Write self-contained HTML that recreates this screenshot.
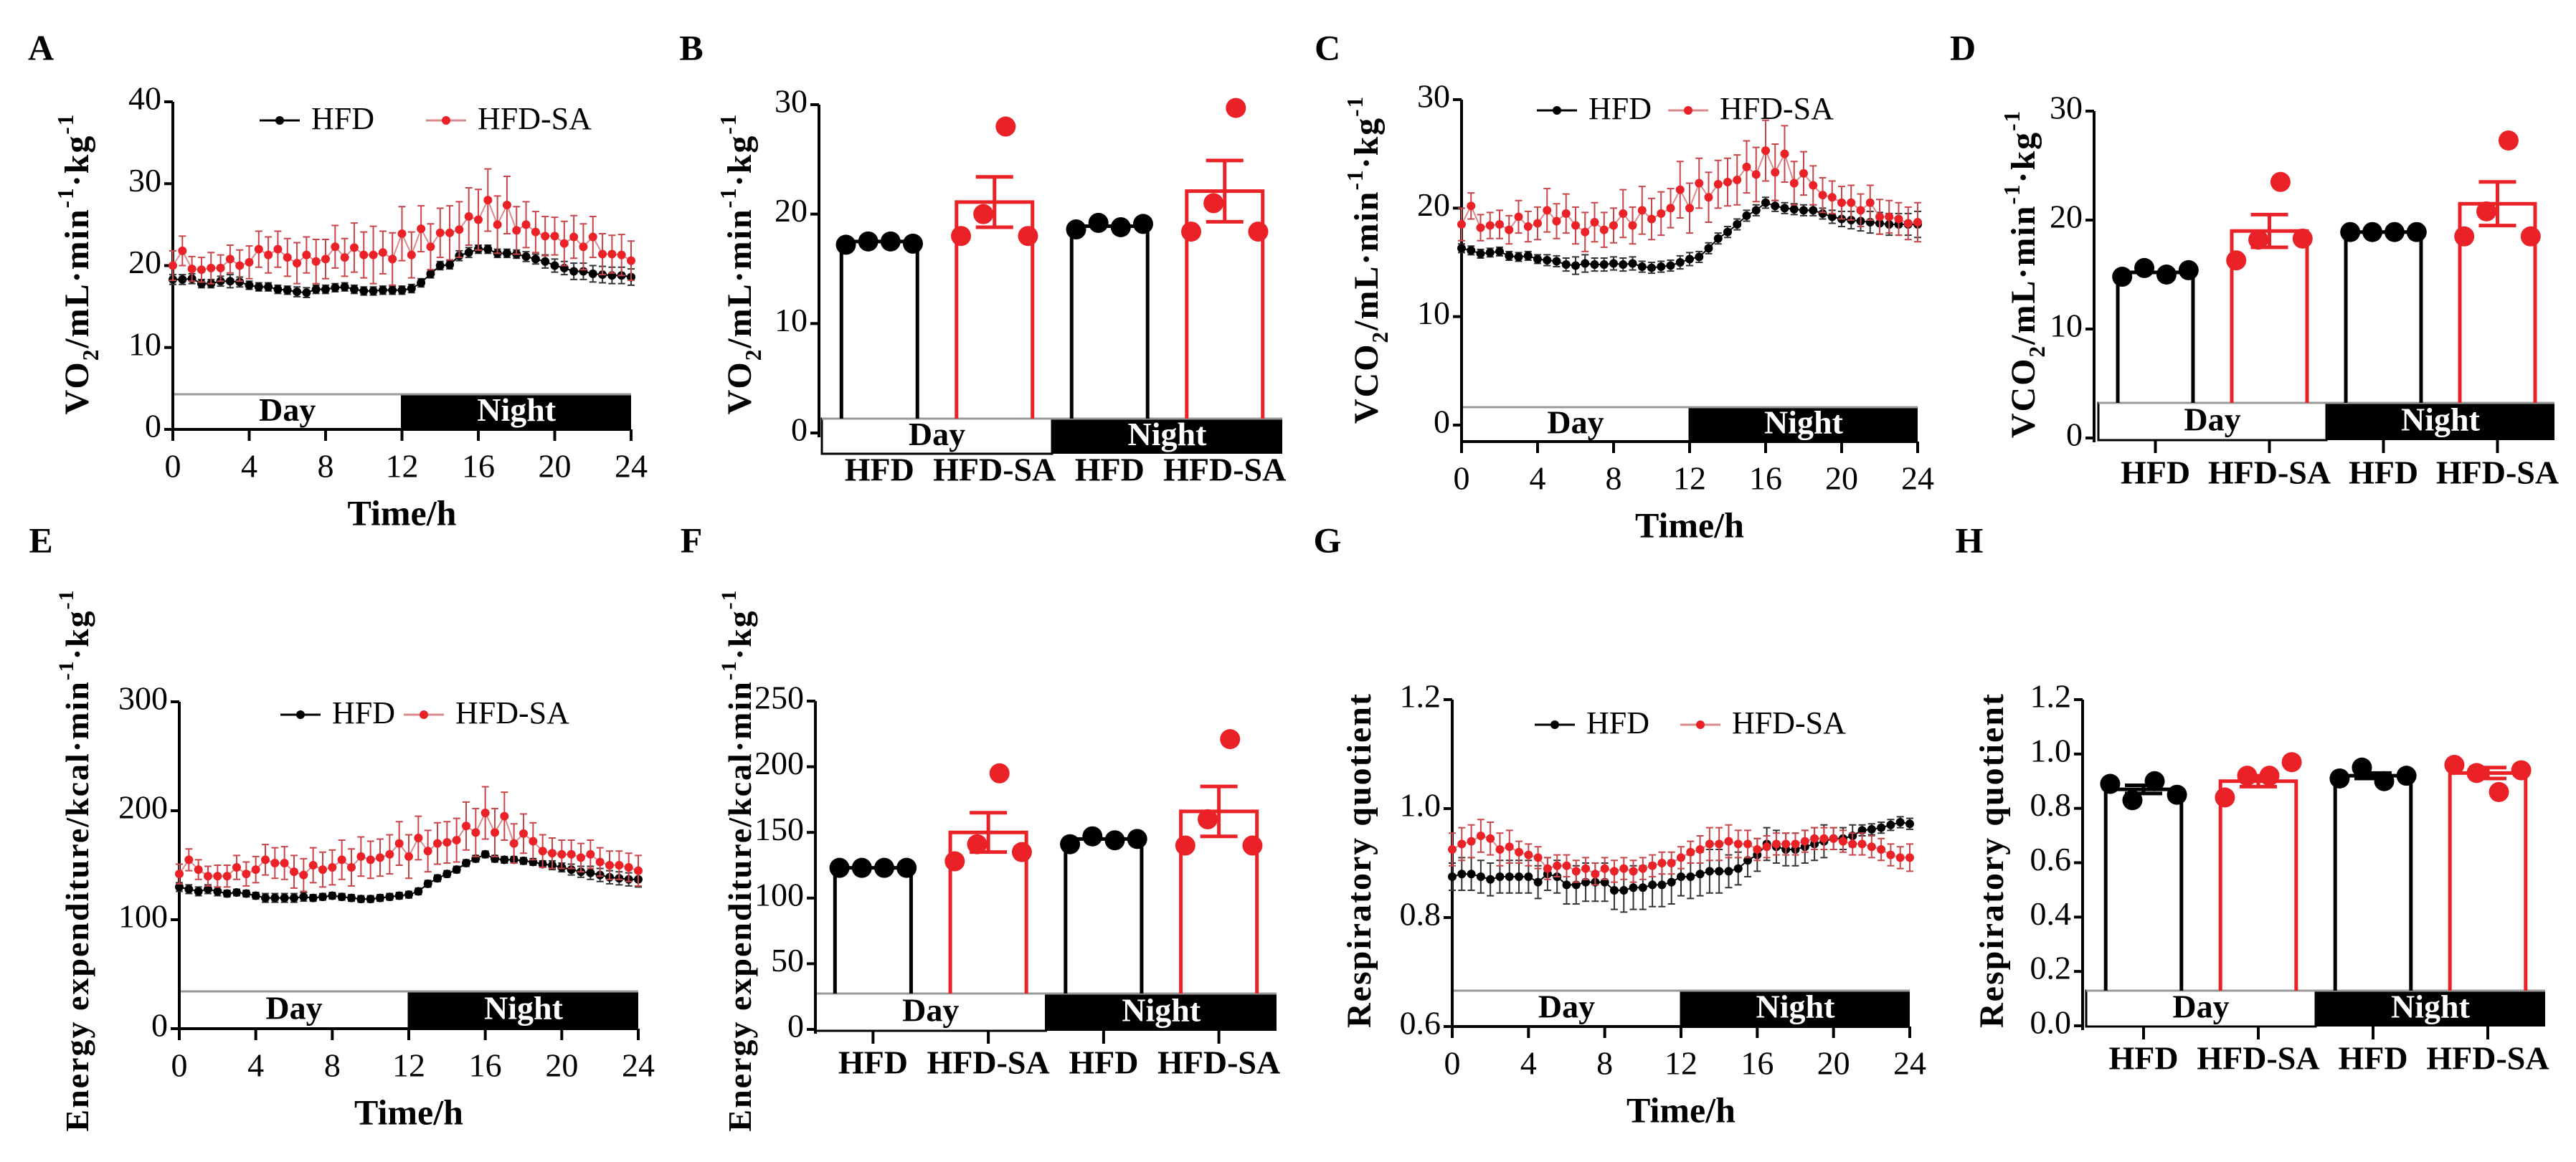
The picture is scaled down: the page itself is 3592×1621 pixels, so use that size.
<!DOCTYPE html>
<html><head><meta charset="utf-8">
<style>
html,body{margin:0;padding:0;background:#fff;}
svg{display:block;font-family:"Liberation Serif",serif;}
</style></head>
<body>
<svg id="fig" width="3592" height="1621" viewBox="0 0 3592 1621" xmlns="http://www.w3.org/2000/svg"></svg>
<script>
// ---------- Panel A: VO2 time course ----------
const vo2Hfd = [18.3,18.3,18.4,17.8,17.8,18.1,18.1,18,17.6,17.4,17.4,17.1,17,16.8,16.7,17.1,17.1,17.3,17.4,17.1,16.9,16.9,17,17,17,17.2,17.9,19,20,20.1,21.2,21.6,22,22,21.5,21.5,21.4,21.1,20.8,20.5,20,19.7,19.3,19.3,19,18.9,18.8,18.8,18.6];
const vo2HfdErr = [0.6,0.6,0.6,0.5,0.5,0.6,0.8,0.6,0.5,0.5,0.5,0.5,0.5,0.6,0.6,0.5,0.5,0.5,0.5,0.5,0.5,0.5,0.5,0.5,0.5,0.5,0.5,0.5,0.5,0.5,0.6,0.6,0.5,0.5,0.5,0.5,0.5,0.6,0.6,0.8,0.8,0.8,1,1,1,1,1,1,1];
const vo2Sa = [20,21.8,19.6,19.5,19.7,19.7,20.8,20,20.4,22,21.3,22,21,20.3,21.3,20.5,20.8,22.3,21,22.2,21.3,21.3,21.6,20.8,23.9,21.3,24.5,22.3,24,24,24.4,26,25.6,28,25,27.4,24.3,25,24.1,23.6,23.6,22.7,23.5,22.3,23.5,21.4,21.4,21.3,20.6];
const vo2SaErr = [1.8,1.8,1.5,1.5,1.9,1.6,1.7,1.9,2,2.2,2.2,2.2,2.3,2.5,2.2,2.7,2.4,2.6,2.3,3,2.8,3.5,2.6,3.2,3.3,2.8,2.8,2.8,3,3.3,3.4,3.5,3.7,3.8,3.5,3.5,2.9,2.8,2.5,2.4,2.3,2.7,2.6,2.8,2.5,2.5,2.3,2.5,2.4];
// ---------- Panel C: VCO2 time course ----------
const vco2Hfd = [16.3,16.1,15.8,15.9,16,15.6,15.5,15.6,15.3,15.2,15.1,14.8,14.7,14.9,14.8,14.8,14.9,14.8,14.9,14.6,14.5,14.6,14.7,15,15.3,15.5,16.3,17.2,17.8,18.5,19.3,19.8,20.5,20.2,20,19.9,19.8,19.8,19.5,19.2,19,18.9,18.8,18.7,18.6,18.5,18.5,18.5,18.5];
const vco2HfdErr = [0.4,0.4,0.4,0.4,0.4,0.4,0.4,0.4,0.4,0.5,0.5,0.6,0.8,0.8,0.6,0.6,0.6,0.6,0.6,0.5,0.5,0.5,0.5,0.6,0.6,0.5,0.5,0.5,0.5,0.5,0.5,0.5,0.5,0.5,0.5,0.5,0.5,0.5,0.5,0.6,0.7,0.8,0.9,1,1,1,1,1,1.2];
const vco2Sa = [18.5,20.2,18.2,18.4,18.5,18,19.2,18.3,18.6,19.8,18.8,19.5,18.4,17.8,18.7,18,18.4,19.5,18.4,19.8,19,19.5,20,21.7,20,22.3,21,22.2,22.4,22.6,23.8,23.1,25.3,23.3,25,22.3,23.2,22.1,21.2,21,20.5,20.5,19.8,20.5,19.2,19.2,19,18.6,18.7];
const vco2SaErr = [1.5,1.2,1.2,1.2,1.3,1.3,1.5,1.4,1.5,2,1.6,1.8,1.7,1.8,1.8,1.6,1.6,2.2,1.7,2.2,1.9,2,1.8,2.6,2.3,2.3,2.3,2.2,2.2,2.3,2.4,2.5,2.8,2.6,2.6,2,2,1.8,1.6,1.5,1.5,1.6,1.5,1.6,1.6,1.5,1.5,1.5,1.8];
// ---------- Panel E: energy expenditure time course ----------
const eeHfd = [130,128,126,128,126,124,125,124,122,120,120,120,120,121,120,121,122,121,120,119,119,120,121,122,123,126,133,138,142,146,152,156,160,156,155,155,154,153,151,150,148,146,144,143,141,139,138,137,137];
const eeHfdErr = [4,4,4,4,4,3,3,3,3,4,4,4,4,4,3,3,3,3,3,3,3,3,3,3,3,3,3,3,3,3,3,3,3,3,3,3,3,3,3,4,4,5,5,6,6,6,6,6,7];
const eeSa = [142,155,146,140,140,140,148,142,146,155,152,152,144,141,150,146,148,155,148,158,155,157,160,170,158,175,163,170,171,173,186,180,198,180,195,170,179,172,163,161,160,160,157,160,153,150,150,148,145];
const eeSaErr = [9,10,9,9,10,10,11,11,12,14,14,15,15,15,16,16,16,18,17,18,17,17,18,20,20,20,19,19,19,20,22,22,24,22,22,18,18,17,15,14,13,13,13,13,13,13,13,13,14];
// ---------- Panel G: respiratory quotient time course ----------
const rqHfd = [0.875,0.88,0.88,0.875,0.87,0.875,0.875,0.875,0.875,0.865,0.88,0.875,0.86,0.86,0.865,0.865,0.865,0.85,0.85,0.855,0.855,0.86,0.86,0.865,0.875,0.875,0.88,0.885,0.885,0.885,0.89,0.905,0.915,0.935,0.93,0.925,0.925,0.93,0.935,0.94,0.945,0.945,0.95,0.96,0.962,0.965,0.97,0.975,0.972];
const rqHfdErr = [0.025,0.03,0.03,0.03,0.03,0.03,0.03,0.03,0.03,0.03,0.03,0.03,0.035,0.035,0.035,0.035,0.035,0.035,0.04,0.04,0.04,0.04,0.04,0.04,0.035,0.04,0.04,0.04,0.04,0.03,0.03,0.03,0.03,0.03,0.03,0.03,0.03,0.03,0.03,0.03,0.02,0.02,0.02,0.01,0.01,0.01,0.01,0.01,0.01];
const rqSa = [0.925,0.935,0.94,0.95,0.945,0.925,0.93,0.92,0.915,0.91,0.89,0.895,0.895,0.885,0.89,0.88,0.89,0.885,0.89,0.885,0.89,0.895,0.9,0.9,0.91,0.92,0.925,0.935,0.935,0.94,0.935,0.935,0.925,0.93,0.935,0.935,0.935,0.94,0.945,0.945,0.945,0.94,0.935,0.935,0.93,0.925,0.915,0.91,0.91];
const rqSaErr = [0.03,0.03,0.03,0.03,0.03,0.03,0.03,0.02,0.02,0.02,0.02,0.02,0.02,0.02,0.02,0.02,0.02,0.02,0.02,0.02,0.02,0.02,0.02,0.02,0.02,0.02,0.025,0.03,0.03,0.03,0.025,0.025,0.02,0.02,0.02,0.02,0.02,0.02,0.02,0.02,0.02,0.02,0.02,0.02,0.02,0.02,0.02,0.02,0.025];
const hourTicks = [0,4,8,12,16,20,24];

// ---------- Bar charts ----------
const barCategories = ["HFD","HFD-SA","HFD","HFD-SA"];
const vo2BarMeans = [17.5,21.1,18.9,22.1];
const vo2BarSem = [0,2.3,0,2.8];
const vo2BarDots = [[17.2,17.5,17.5,17.3],[18,20,28,18],[18.6,19.2,18.8,19.1],[18.4,21,29.7,18.4]];
const vco2BarMeans = [15.2,19.0,18.9,21.5];
const vco2BarSem = [0,1.5,0,2.0];
const vco2BarDots = [[14.8,15.6,15.0,15.4],[16.3,18.2,23.5,18.3],[18.9,18.9,18.9,18.9],[18.5,20.8,27.3,18.5]];
const eeBarMeans = [123,150,145,166];
const eeBarSem = [0,15,0,19];
const eeBarDots = [[123,123,123,123],[128,141,195,135],[141,147,144,145],[140,160,221,140]];
const rqBarMeans = [0.87,0.90,0.92,0.93];
const rqBarSem = [0.015,0.02,0.01,0.02];
const rqBarDots = [[0.89,0.83,0.90,0.85],[0.84,0.92,0.92,0.97],[0.91,0.95,0.90,0.92],[0.96,0.93,0.86,0.94]];
const barTickVo2 = [0,10,20,30];
const barTickEe = [0,50,100,150,200,250];
const barTickRq = [0,0.2,0.4,0.6,0.8,1.0,1.2];

const NS = "http://www.w3.org/2000/svg";
const svg = document.getElementById("fig");
const RED = "#ea2127", RED_ERR = "#c8454a";
function mk(tag, attrs, parent){
  const el = document.createElementNS(NS, tag);
  for (const k in attrs) el.setAttribute(k, attrs[k]);
  (parent || svg).appendChild(el);
  return el;
}
function fmt(v, dec){ return dec ? v.toFixed(dec) : String(v); }

function yLabel(g, cx, cy, parts, size){
  const t = mk("text", {x:cx, y:cy, transform:`rotate(-90 ${cx} ${cy})`, "text-anchor":"middle", "font-size":size, "font-weight":"bold", "dominant-baseline":"middle", "letter-spacing":"2"}, g);
  
  
  parts.forEach(p => {
    const s = mk("tspan", {}, t);
    if (p[1] === "sub") { s.setAttribute("baseline-shift","sub"); s.setAttribute("font-size", size*0.65); }
    if (p[1] === "sup") { s.setAttribute("baseline-shift","super"); s.setAttribute("font-size", size*0.65); }
    s.textContent = p[0];
  });
}
function panelLetter(x, y, ch){
  const t = mk("text", {x:x, y:y, "font-size":50, "font-weight":"bold", "text-anchor":"middle", "dominant-baseline":"middle"});
  
  
  t.textContent = ch;
}
function dayNight(g, x0, x1, xm, top, bot){
  const d = mk("rect", {x:x0, y:top, width:xm-x0, height:bot-top, fill:"#fff", stroke:"#000", "stroke-width":3}, g);
  
  
  const n = mk("rect", {x:xm, y:top, width:x1-xm, height:bot-top, fill:"#000"}, g);
  
  
  const ln = mk("line", {x1:x0, x2:x1, y1:top, y2:top, stroke:"#999", "stroke-width":3}, g);
  
  
  const dt = mk("text", {x:(x0+xm)/2, y:(top+bot)/2+2, "font-size":46, "font-weight":"bold", "text-anchor":"middle", "dominant-baseline":"middle"}, g);
  
  
  dt.textContent = "Day";
  const nt = mk("text", {x:(xm+x1)/2, y:(top+bot)/2+2, "font-size":46, "font-weight":"bold", "text-anchor":"middle", "dominant-baseline":"middle", fill:"#fff"}, g);
  
  
  nt.textContent = "Night";
}

function lineChart(c){
  const g = mk("g", {});
  
  
  const yS = v => c.y0 - (v - c.ymin)/(c.ymax - c.ymin)*(c.y0 - c.yTop);
  const xS = t => c.x0 + t/24*(c.x1 - c.x0);
  dayNight(g, c.x0, c.x1, xS(12), c.bandTop, c.axisY);
  const ya = mk("line", {x1:c.x0, x2:c.x0, y1:c.yTop, y2:c.axisY, stroke:"#000", "stroke-width":4}, g);
  
  
  const xa = mk("line", {x1:c.x0, x2:c.x1, y1:c.axisY, y2:c.axisY, stroke:"#000", "stroke-width":4}, g);
  
  
  c.yticks.forEach(v => {
    const tk = mk("line", {x1:c.x0-12, x2:c.x0, y1:yS(v), y2:yS(v), stroke:"#000", "stroke-width":4}, g);
    
    
    const tl = mk("text", {x:c.x0-16, y:yS(v), "font-size":46, "text-anchor":"end", "dominant-baseline":"middle"}, g);
    
    
    tl.textContent = fmt(v, c.dec);
  });
  hourTicks.forEach(h => {
    const tk = mk("line", {x1:xS(h), x2:xS(h), y1:c.axisY, y2:c.axisY+16, stroke:"#000", "stroke-width":4}, g);
    
    
    const tl = mk("text", {x:xS(h), y:c.axisY+56, "font-size":46, "text-anchor":"middle", "dominant-baseline":"middle"}, g);
    
    
    tl.textContent = h;
  });
  const xt = mk("text", {x:(c.x0+c.x1)/2, y:c.axisY+122, "font-size":50, "font-weight":"bold", "text-anchor":"middle", "dominant-baseline":"middle"}, g);
  
  
  xt.textContent = "Time/h";
  yLabel(g, c.ylx, c.yly, c.ytitle, c.ysize);
  const series = [
    {vals:c.hfd, err:c.hfdErr, col:"#000", ecol:"#333", line:"#000", name:"hfd"},
    {vals:c.sa, err:c.saErr, col:RED, ecol:RED_ERR, line:"#d98a8c", name:"hfd-sa"}
  ];
  series.forEach(s => {
    const sg = mk("g", {}, g);
    
    
    const n = s.vals.length;
    const tt = i => i*24/(n-1);
    s.vals.forEach((v,i) => {
      const x = xS(tt(i)), e = s.err[i];
      const eb = mk("path", {d:`M${x},${yS(v-e)}V${yS(v+e)}M${x-5},${yS(v-e)}H${x+5}M${x-5},${yS(v+e)}H${x+5}`, stroke:s.ecol, "stroke-width":2, fill:"none"}, sg);
      
      
    });
    const pts = s.vals.map((v,i) => xS(tt(i)) + "," + yS(v)).join(" ");
    const pl = mk("polyline", {points:pts, fill:"none", stroke:s.line, "stroke-width":2}, sg);
    
    
    s.vals.forEach((v,i) => {
      const p = mk("circle", {cx:xS(tt(i)), cy:yS(v), r:6, fill:s.col}, sg);
      
      
    });
  });
  [[c.leg[0], "#000", "#000", "HFD"], [c.leg[1], RED, "#d98a8c", "HFD-SA"]].forEach(L => {
    const lg = mk("g", {}, g);
    
    
    mk("line", {x1:L[0]-28, x2:L[0]+28, y1:c.legY, y2:c.legY, stroke:L[2], "stroke-width":3}, lg);
    mk("circle", {cx:L[0], cy:c.legY, r:6, fill:L[1]}, lg);
    const lt = mk("text", {x:L[0]+44, y:c.legY+2, "font-size":44, "dominant-baseline":"middle"}, lg);
    
    
    lt.textContent = L[3];
  });
}

function barChart(c){
  const g = mk("g", {});
  
  
  const yS = v => c.y0 - v/c.ymax*(c.y0 - c.yTop);
  const n = c.means.length;
  const step = (c.bx1 - c.bx0)/n;
  const cx = i => c.bx0 + step*(i+0.5);
  const bw = step*0.66;
  dayNight(g, c.bx0, c.bx1, (c.bx0+c.bx1)/2, c.bandTop, c.bandBot);
  const ya = mk("line", {x1:c.x0, x2:c.x0, y1:c.yTop, y2:c.y0+6, stroke:"#000", "stroke-width":4}, g);
  
  
  c.yticks.forEach(v => {
    const tk = mk("line", {x1:c.x0-12, x2:c.x0, y1:yS(v), y2:yS(v), stroke:"#000", "stroke-width":4}, g);
    
    
    const tl = mk("text", {x:c.x0-16, y:yS(v), "font-size":46, "text-anchor":"end", "dominant-baseline":"middle"}, g);
    
    
    tl.textContent = fmt(v, c.dec);
  });
  barCategories.forEach((cat,i) => {
    if (c.ticks) {
      const tk = mk("line", {x1:cx(i), x2:cx(i), y1:c.bandBot, y2:c.bandBot+18, stroke:"#000", "stroke-width":4}, g);
      
      
    }
    const tl = mk("text", {x:cx(i), y:c.labY, "font-size":46, "font-weight":"bold", "text-anchor":"middle", "dominant-baseline":"middle"}, g);
    
    
    tl.textContent = cat;
  });
  c.means.forEach((m,i) => {
    const col = i%2 ? RED : "#000";
    const b = mk("path", {d:`M${cx(i)-bw/2},${c.bandTop}V${yS(m)}H${cx(i)+bw/2}V${c.bandTop}`, fill:"none", stroke:col, "stroke-width":5}, g);
    
    
    const e = c.sem[i];
    if (e > 0) {
      const eb = mk("path", {d:`M${cx(i)},${yS(m-e)}V${yS(m+e)}M${cx(i)-26},${yS(m-e)}H${cx(i)+26}M${cx(i)-26},${yS(m+e)}H${cx(i)+26}`, stroke:col, "stroke-width":5, fill:"none"}, g);
      
      
    }
    c.dots[i].forEach((v,j) => {
      const dx = (j - 1.5) * bw/3.4;
      const d = mk("circle", {cx:cx(i)+dx, cy:yS(v), r:14, fill:col}, g);
      
      
    });
  });
  yLabel(g, c.ylx, c.yly, c.ytitle, c.ysize);
}

const vo2Title = [["VO"],["2","sub"],["/mL·min"],["-1","sup"],["·kg"],["-1","sup"]];
const vco2Title = [["VCO"],["2","sub"],["/mL·min"],["-1","sup"],["·kg"],["-1","sup"]];
const eeTitle = [["Energy expenditure/kcal·min"],["-1","sup"],["·kg"],["-1","sup"]];
const rqTitle = [["Respiratory quotient"]];

panelLetter(57,72,"A"); panelLetter(964,72,"B"); panelLetter(1851,72,"C"); panelLetter(2737,72,"D");
panelLetter(57,759,"E"); panelLetter(964,759,"F"); panelLetter(1851,759,"G"); panelLetter(2746,759,"H");

lineChart({name:"panel-a-vo2-timecourse", x0:241, x1:880, yTop:142, y0:599, axisY:599, bandTop:550, ymin:0, ymax:40, yticks:[0,10,20,30,40], dec:0,
  hfd:vo2Hfd, hfdErr:vo2HfdErr, sa:vo2Sa, saErr:vo2SaErr, leg:[390,622], legY:168, ylx:112, yly:368, ytitle:vo2Title, ysize:48});
barChart({name:"panel-b-vo2-bars", x0:1142, yTop:146, y0:604, ymax:30, yticks:barTickVo2, dec:0, bx0:1146, bx1:1788, bandTop:584, bandBot:633,
  means:vo2BarMeans, sem:vo2BarSem, dots:vo2BarDots, labY:660, ticks:false, ylx:1036, yly:368, ytitle:vo2Title, ysize:48});
lineChart({name:"panel-c-vco2-timecourse", x0:2038, x1:2674, yTop:139, y0:593, axisY:616, bandTop:568, ymin:0, ymax:30, yticks:[0,10,20,30], dec:0,
  hfd:vco2Hfd, hfdErr:vco2HfdErr, sa:vco2Sa, saErr:vco2SaErr, leg:[2171,2354], legY:154, ylx:1910, yly:362, ytitle:vco2Title, ysize:48});
barChart({name:"panel-d-vco2-bars", x0:2920, yTop:155, y0:611, ymax:30, yticks:barTickVo2, dec:0, bx0:2926, bx1:3562, bandTop:562, bandBot:614,
  means:vco2BarMeans, sem:vco2BarSem, dots:vco2BarDots, labY:664, ticks:true, ylx:2826, yly:382, ytitle:vco2Title, ysize:48});
lineChart({name:"panel-e-ee-timecourse", x0:250, x1:890, yTop:979, y0:1435, axisY:1435, bandTop:1383, ymin:0, ymax:300, yticks:[0,100,200,300], dec:0,
  hfd:eeHfd, hfdErr:eeHfdErr, sa:eeSa, saErr:eeSaErr, leg:[419,591], legY:997, ylx:112, yly:1200, ytitle:eeTitle, ysize:46});
barChart({name:"panel-f-ee-bars", x0:1137, yTop:978, y0:1436, ymax:250, yticks:barTickEe, dec:0, bx0:1137, bx1:1780, bandTop:1386, bandBot:1438,
  means:eeBarMeans, sem:eeBarSem, dots:eeBarDots, labY:1487, ticks:true, ylx:1036, yly:1200, ytitle:eeTitle, ysize:46});
lineChart({name:"panel-g-rq-timecourse", x0:2025, x1:2663, yTop:976, y0:1432, axisY:1432, bandTop:1382, ymin:0.6, ymax:1.2, yticks:[0.6,0.8,1.0,1.2], dec:1,
  hfd:rqHfd, hfdErr:rqHfdErr, sa:rqSa, saErr:rqSaErr, leg:[2168,2371], legY:1011, ylx:1900, yly:1200, ytitle:rqTitle, ysize:48});
barChart({name:"panel-h-rq-bars", x0:2904, yTop:976, y0:1431, ymax:1.2, yticks:barTickRq, dec:1, bx0:2909, bx1:3549, bandTop:1382, bandBot:1432,
  means:rqBarMeans, sem:rqBarSem, dots:rqBarDots, labY:1481, ticks:true, ylx:2782, yly:1200, ytitle:rqTitle, ysize:48});
</script>
</body></html>
